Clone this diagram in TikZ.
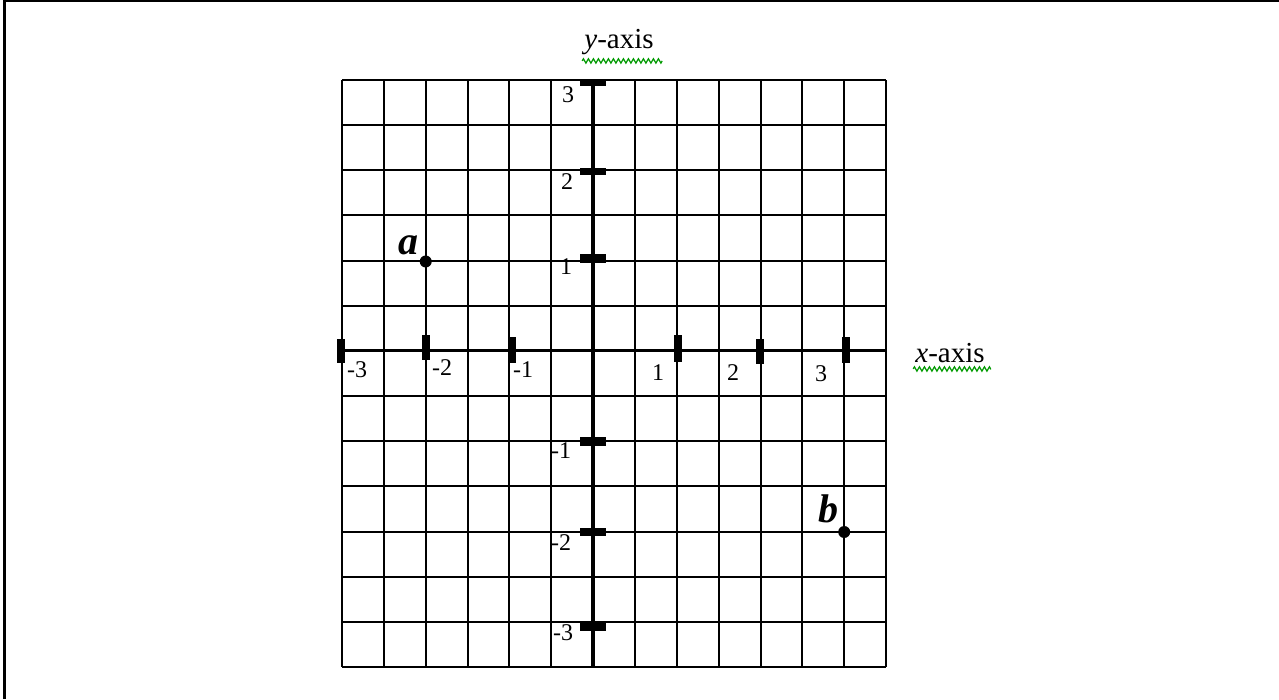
\documentclass[tikz,border=0pt]{standalone}
\usepackage{fontspec}
\setmainfont{Liberation Serif}
\usetikzlibrary{decorations.pathmorphing}
\begin{document}
\begin{tikzpicture}[x=1pt,y=-1pt,
  gridline/.style={line width=2pt, black},
  axisline/.style={line width=4pt, black},
  tickmark/.style={fill=black},
  numlabel/.style={inner sep=0pt, font=\fontsize{24}{26}\selectfont},
  axislabel/.style={inner sep=0pt, font=\fontsize{29}{31}\selectfont},
  ptlabel/.style={inner sep=0pt, font=\fontsize{40}{44}\selectfont\bfseries\itshape},
  dot/.style={circle, fill=black, inner sep=0pt, minimum size=12pt},
  squiggle/.style={draw=green!60!black, line width=1.2pt, decorate,
    decoration={zigzag, segment length=5pt, amplitude=2.2pt}}]
\useasboundingbox (0,0) rectangle (1279,699);
% outer frame (left and top edges)
\draw[line width=2.4pt] (4.5,699) -- (4.5,1.2) -- (1279,1.2);
% grid
\foreach \i in {0,...,13}
  \draw[gridline] ({342+41.85*\i},80) -- ({342+41.85*\i},667);
\foreach \j in {0,...,13}
  \draw[gridline] (342,{80+45.15*\j}) -- (886,{80+45.15*\j});
% axes
\draw[line width=3pt] (342,350.9) -- (886,350.9);
\draw[axisline] (593.1,80) -- (593.1,667);
% y-axis ticks
\foreach \ya/\yb in {80/85.5, 167.5/175, 254/263, 437/445.5, 528/536, 623/631}
  \fill[tickmark] (580,\ya) rectangle (606,\yb);
% x-axis ticks
\foreach \xa/\ya/\yb in {337/339/363, 422/335/360, 508/337/363, 674/335/362, 756/339/364, 842/337/363}
  \fill[tickmark] (\xa,\ya) rectangle ({\xa+8},\yb);
% y labels
\node[numlabel] (y3) at (568,95) {3};
\node[numlabel] (y2) at (567,182) {2};
\node[numlabel] (y1) at (566,267) {1};
\node[numlabel] (ym1) at (561,451) {-1};
\node[numlabel] (ym2) at (561,543) {-2};
\node[numlabel] (ym3) at (563,633) {-3};
% x labels
\node[numlabel] (xm3) at (357,370) {-3};
\node[numlabel] (xm2) at (442,368) {-2};
\node[numlabel] (xm1) at (523,370) {-1};
\node[numlabel] (x1) at (658,373) {1};
\node[numlabel] (x2) at (733,373) {2};
\node[numlabel] (x3) at (821,374) {3};
% axis names
\node[axislabel] (yname) at (619,42) {\textit{y}-axis};
\node[axislabel] (xname) at (950,353) {\textit{x}-axis};
\draw[squiggle] (yname.south west) ++(-2,6) coordinate (ysq) -- ++(80,0);
\draw[squiggle] (xname.south west) ++(-2,6) coordinate (xsq) -- ++(78,0);
% points
\node[dot] (a) at (425.7,261.5) {};
\node[dot] (b) at (844.2,532) {};
\node[ptlabel] (alabel) at (408,245) {a};
\node[ptlabel] (blabel) at (828,509) {b};
\end{tikzpicture}
\end{document}
